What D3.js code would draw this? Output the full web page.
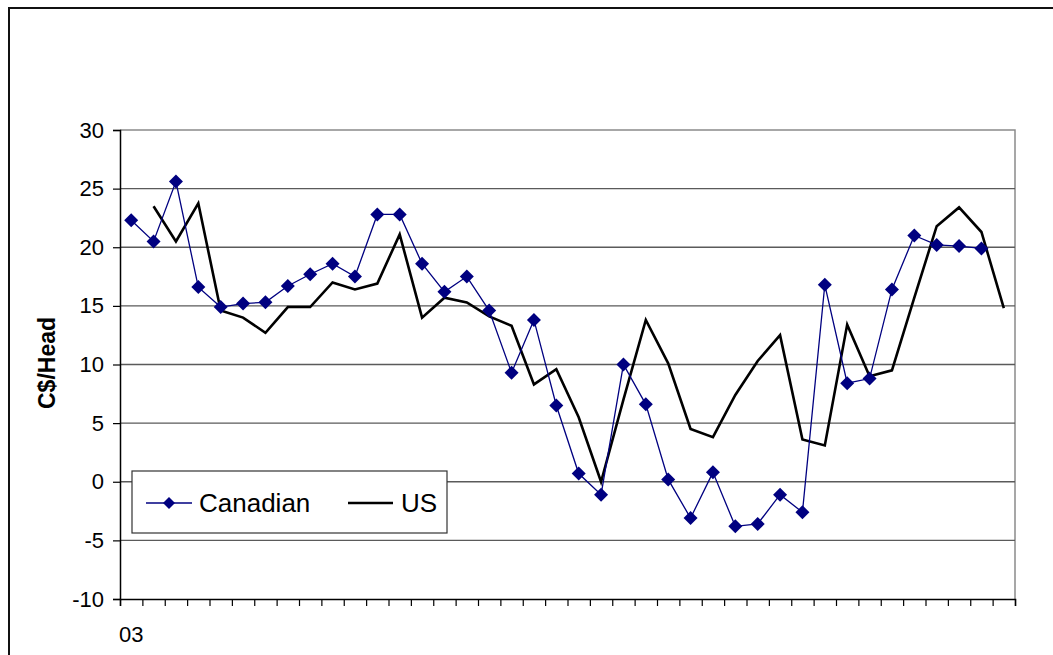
<!DOCTYPE html>
<html>
<head>
<meta charset="utf-8">
<script src="https://cdn.jsdelivr.net/npm/d3@7"></script>
<style>
  html, body { margin: 0; padding: 0; background: #fff; }
  svg { display: block; font-family: "Liberation Sans", Arial, sans-serif; }
</style>
</head>
<body>
<svg id="chart" width="1053" height="655"></svg>
<script>
// Quarterly margins, C$ per head
const periodCount = 40;
const tickLabels = ["03"];           // label shown under the first period
const canadian = [22.3, 20.5, 25.6, 16.6, 14.9, 15.2, 15.3, 16.7, 17.7, 18.6,
                  17.5, 22.8, 22.8, 18.6, 16.2, 17.5, 14.6, 9.3, 13.8, 6.5,
                  0.7, -1.1, 10.0, 6.6, 0.2, -3.1, 0.8, -3.8, -3.6, -1.1,
                  -2.6, 16.8, 8.4, 8.8, 16.4, 21.0, 20.2, 20.1, 19.9, null];
const us = [null, 23.5, 20.5, 23.75, 14.6, 14.0, 12.7, 14.9, 14.9, 17.0,
            16.4, 16.9, 21.1, 14.0, 15.7, 15.3, 14.1, 13.3, 8.3, 9.6,
            5.5, 0.0, 7.0, 13.8, 10.1, 4.5, 3.8, 7.4, 10.3, 12.5,
            3.6, 3.1, 13.4, 9.0, 9.5, 15.7, 21.8, 23.4, 21.3, 14.8];
const yTicks = [-10, -5, 0, 5, 10, 15, 20, 25, 30];
const yTitle = "C$/Head";
const seriesNames = ["Canadian", "US"];

const svg = d3.select("#chart");
const plot = { left: 120, right: 1015, top: 130, bottom: 599 };

const periods = d3.range(periodCount);
const x = d3.scaleBand().domain(periods).range([plot.left, plot.right]).paddingInner(0).paddingOuter(0);
const xEdge = d3.scaleLinear().domain([0, periodCount]).range([plot.left, plot.right]);
const y = d3.scaleLinear().domain([-10, 30]).range([plot.bottom, plot.top]);
const cx = i => x(i) + x.bandwidth() / 2;

// outer frame
svg.append("path")
  .attr("d", `M9,660 V8 H1060`)
  .attr("fill", "none").attr("stroke", "#111").attr("stroke-width", 2);

// plot area border (top and right)
svg.append("path")
  .attr("d", `M${plot.left},${plot.top} H${plot.right} V${plot.bottom}`)
  .attr("fill", "none").attr("stroke", "#8a8a8a").attr("stroke-width", 1.5);

// horizontal gridlines
svg.append("g").selectAll("line")
  .data(yTicks.filter(v => v > -10 && v < 30))
  .join("line")
  .attr("x1", plot.left).attr("x2", plot.right)
  .attr("y1", d => y(d)).attr("y2", d => y(d))
  .attr("stroke", "#5a5a5a").attr("stroke-width", 1.3);

// y axis (plain hyphen for negatives)
const yAxis = svg.append("g")
  .attr("transform", `translate(${plot.left},0)`)
  .call(d3.axisLeft(y).tickValues(yTicks).tickSize(7).tickPadding(9).tickFormat(d => String(d)));
yAxis.attr("font-size", null).attr("font-family", null);
yAxis.select(".domain").attr("stroke", "#000").attr("stroke-width", 1.5);
yAxis.selectAll(".tick line").attr("stroke", "#000").attr("stroke-width", 1.2);
yAxis.selectAll(".tick text")
  .style("font-size", "22px").attr("fill", "#000");

// x axis with ticks between periods
const xAxis = svg.append("g")
  .attr("transform", `translate(0,${plot.bottom})`)
  .call(d3.axisBottom(xEdge).tickValues(d3.range(periodCount + 1)).tickSize(7).tickFormat(""));
xAxis.select(".domain").attr("stroke", "#000").attr("stroke-width", 1.5);
xAxis.selectAll(".tick line").attr("stroke", "#000").attr("stroke-width", 1.2);

svg.append("g").selectAll("text")
  .data(tickLabels)
  .join("text")
  .attr("x", (d, i) => cx(i))
  .attr("y", 642)
  .attr("text-anchor", "middle")
  .style("font-size", "22px")
  .attr("fill", "#000")
  .text(d => d);

// y axis title
svg.append("text")
  .attr("transform", `translate(55,363) rotate(-90)`)
  .attr("text-anchor", "middle")
  .style("font-size", "23px")
  .attr("font-weight", "bold")
  .attr("fill", "#000")
  .text(yTitle);

// series lines
const line = d3.line()
  .defined(d => d != null)
  .x((d, i) => cx(i))
  .y(d => y(d));

svg.append("path")
  .datum(us)
  .attr("d", line)
  .attr("fill", "none").attr("stroke", "#000").attr("stroke-width", 2.6)
  .attr("stroke-linejoin", "miter");

svg.append("path")
  .datum(canadian)
  .attr("d", line)
  .attr("fill", "none").attr("stroke", "#000080").attr("stroke-width", 1.3);

const diamond = s => `M0,${-s} L${s},0 L0,${s} L${-s},0 Z`;
svg.append("g").selectAll("path")
  .data(canadian.map((v, i) => ({ v, i })).filter(d => d.v != null))
  .join("path")
  .attr("transform", d => `translate(${cx(d.i)},${y(d.v)})`)
  .attr("d", diamond(7))
  .attr("fill", "#000080");

// legend
const legend = svg.append("g");
legend.append("rect")
  .attr("x", 132).attr("y", 471).attr("width", 315).attr("height", 62)
  .attr("fill", "#fff").attr("stroke", "#333").attr("stroke-width", 1.2);

const ly = 503;
legend.append("line")
  .attr("x1", 146).attr("x2", 192).attr("y1", ly).attr("y2", ly)
  .attr("stroke", "#000080").attr("stroke-width", 1.3);
legend.append("path")
  .attr("transform", `translate(169,${ly})`)
  .attr("d", diamond(6))
  .attr("fill", "#000080");
legend.append("text")
  .attr("x", 199).attr("y", ly + 9)
  .style("font-size", "26px").attr("fill", "#000")
  .text(seriesNames[0]);

legend.append("line")
  .attr("x1", 348).attr("x2", 393).attr("y1", ly).attr("y2", ly)
  .attr("stroke", "#000").attr("stroke-width", 2.6);
legend.append("text")
  .attr("x", 401).attr("y", ly + 9)
  .style("font-size", "26px").attr("fill", "#000")
  .text(seriesNames[1]);
</script>
</body>
</html>
